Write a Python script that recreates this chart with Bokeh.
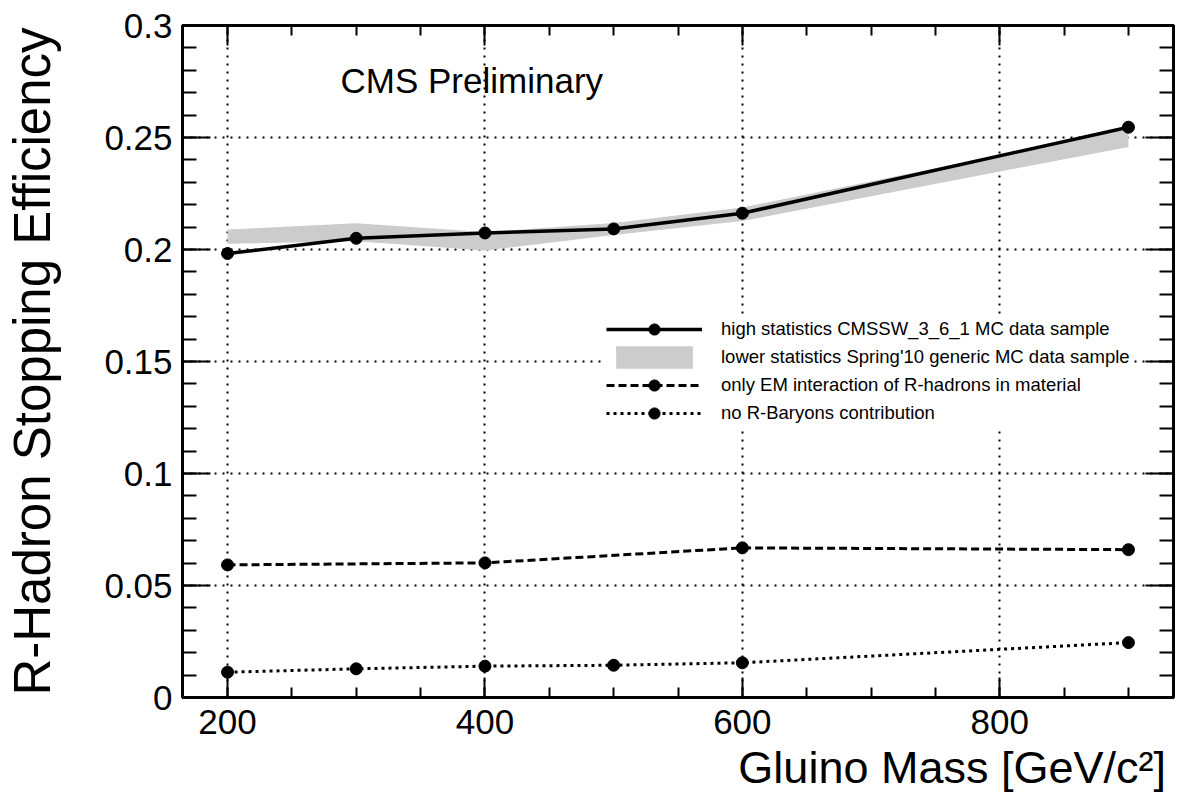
import numpy as np
from bokeh.plotting import figure
from bokeh.models import (Range1d, FixedTicker, LinearAxis, Legend, LegendItem, Label, Title)
from bokeh.embed import file_html
from bokeh.resources import INLINE

# ---------------- data ----------------
mass = [200, 300, 400, 500, 600, 900]
eff_high_stats = [0.1982, 0.2050, 0.2074, 0.2092, 0.2162, 0.2546]
band_low = [0.2026, 0.2037, 0.1996, 0.2065, 0.2127, 0.2458]
band_high = [0.2089, 0.2117, 0.2078, 0.2118, 0.2188, 0.2538]
mass_em = [200, 400, 600, 900]
eff_em_only = [0.0592, 0.0601, 0.0668, 0.0660]
eff_no_baryons = [0.0113, 0.0128, 0.0140, 0.0144, 0.0155, 0.0245]

x_ticks = [200, 400, 600, 800]
x_tick_labels = ["200", "400", "600", "800"]
y_ticks = [0, 0.05, 0.1, 0.15, 0.2, 0.25, 0.3]
y_tick_labels = ["0", "0.05", "0.1", "0.15", "0.2", "0.25", "0.3"]

legend_labels = [
    "high statistics CMSSW_3_6_1 MC data sample",
    "lower statistics Spring'10 generic MC data sample",
    "only EM interaction of R-hadrons in material",
    "no R-Baryons contribution",
]
x_title = "Gluino  Mass [GeV/c\u00b2]"
y_title = "R-Hadron Stopping Efficiency"
cms_text = "CMS Preliminary"

FONT = "Liberation Sans"

# ---------------- figure ----------------
p = figure(width=1193, height=797,
           x_range=Range1d(165, 935), y_range=Range1d(0, 0.3),
           output_backend="svg", toolbar_location=None)
p.min_border_left = 182
p.min_border_right = 20
p.min_border_top = 25
p.min_border_bottom = 100
p.background_fill_color = "white"
p.border_fill_color = "white"
p.outline_line_color = "black"
p.outline_line_width = 3

xticker = FixedTicker(ticks=x_ticks, minor_ticks=list(np.arange(150, 951, 50)))
yticker = FixedTicker(ticks=y_ticks, minor_ticks=[round(v, 3) for v in np.arange(0, 0.3001, 0.01)])

p.add_layout(LinearAxis(), "right")
p.add_layout(LinearAxis(), "above")


def style_axis(ax, ticker, major_in, minor_in):
    ax.ticker = ticker
    ax.axis_line_width = 3
    ax.axis_line_color = "black"
    ax.major_tick_line_width = 2
    ax.minor_tick_line_width = 2
    ax.major_tick_line_color = "black"
    ax.minor_tick_line_color = "black"
    ax.major_tick_in = major_in
    ax.major_tick_out = 0
    ax.minor_tick_in = minor_in
    ax.minor_tick_out = 0
    ax.major_label_text_font = FONT
    ax.major_label_text_color = "black"
    ax.major_label_text_font_size = "35px"


for ax in p.xaxis:
    style_axis(ax, xticker, 20, 10)
for ax in p.yaxis:
    style_axis(ax, yticker, 28, 14)

bottom = p.below[0]
left = p.left[0]
right = p.right[0]
top = p.above[0]

bottom.major_label_overrides = dict(zip(x_ticks, x_tick_labels))
bottom.major_label_standoff = 12
left.major_label_overrides = dict(zip(y_ticks, y_tick_labels))
left.major_label_standoff = 10
left.axis_label = y_title
left.axis_label_text_font = FONT
left.axis_label_text_font_size = "51px"
left.axis_label_text_font_style = "normal"
left.axis_label_text_color = "black"
left.axis_label_standoff = 40

for ax in (right, top):
    ax.major_label_text_font_size = "0px"
    ax.major_label_text_color = None
    ax.major_label_standoff = 0

# x-axis title, right aligned under the frame (as in the reference)
p.add_layout(Title(text=x_title, align="right", text_font=FONT,
                   text_font_size="45px", text_font_style="normal",
                   text_color="black", standoff=7, offset=-5), "below")

for g, tk in ((p.xgrid[0], xticker), (p.ygrid[0], yticker)):
    g.ticker = tk
    g.grid_line_color = "black"
    g.grid_line_dash = "2 6"
    g.grid_line_width = 2

# ---------------- glyphs ----------------
band = p.varea(x=mass, y1=band_low, y2=band_high, fill_color="#cccccc")

l1 = p.line(mass, eff_high_stats, line_color="black", line_width=3.5)
s1 = p.scatter(mass, eff_high_stats, size=12, color="black")

l3 = p.line(mass_em, eff_em_only, line_color="black", line_width=3, line_dash="8 4")
s3 = p.scatter(mass_em, eff_em_only, size=12, color="black")

l4 = p.line(mass, eff_no_baryons, line_color="black", line_width=3, line_dash="3 4")
s4 = p.scatter(mass, eff_no_baryons, size=12, color="black")

legend = Legend(items=[
    LegendItem(label=legend_labels[0], renderers=[l1, s1]),
    LegendItem(label=legend_labels[1], renderers=[band]),
    LegendItem(label=legend_labels[2], renderers=[l3, s3]),
    LegendItem(label=legend_labels[3], renderers=[l4, s4]),
], location=(424, 270))
legend.border_line_color = None
legend.background_fill_color = "white"
legend.background_fill_alpha = 1.0
legend.label_text_font = FONT
legend.label_text_font_size = "18.5px"
legend.label_text_color = "black"
legend.glyph_width = 96
legend.glyph_height = 28
legend.label_height = 28
legend.spacing = 0
legend.padding = 2
legend.margin = 0
legend.label_standoff = 19
p.add_layout(legend)

p.add_layout(Label(x=158, y=617, x_units="screen", y_units="screen", text=cms_text,
                   text_font=FONT, text_font_size="35px", text_color="black",
                   text_baseline="alphabetic", text_align="left"))

open("out.html", "w").write(file_html(p, INLINE))
